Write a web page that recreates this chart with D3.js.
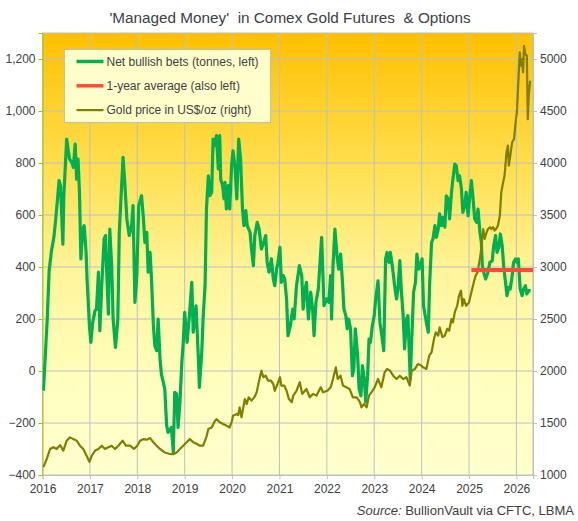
<!DOCTYPE html>
<html>
<head>
<meta charset="utf-8">
<script src="https://cdn.jsdelivr.net/npm/d3@7"></script>
<style>
  body { margin: 0; background: #fff; }
  text { font-family: "Liberation Sans", Arial, sans-serif; fill: #404040; }
</style>
</head>
<body>
<div id="chart"></div>
<script>
// net bullish bets of Managed Money, tonnes (date as decimal year)
const netDates = [2016.02,2016.10,2016.14,2016.19,2016.24,2016.28,2016.35,2016.38,2016.43,2016.45,2016.51,2016.57,2016.62,2016.65,2016.69,2016.72,2016.75,2016.78,2016.81,2016.85,2016.88,2016.92,2016.94,2016.99,
  2017.02,2017.06,2017.11,2017.14,2017.18,2017.21,2017.25,2017.30,2017.33,2017.35,2017.39,2017.42,2017.46,2017.49,2017.54,2017.59,2017.62,2017.67,2017.70,2017.74,2017.78,2017.83,2017.88,2017.91,2017.95,2017.99,
  2018.03,2018.09,2018.13,2018.16,2018.20,2018.23,2018.27,2018.30,2018.34,2018.37,2018.41,2018.44,2018.48,2018.51,2018.58,2018.62,2018.65,2018.72,2018.76,2018.79,2018.83,2018.86,2018.90,2018.94,2018.97,
  2019.00,2019.05,2019.10,2019.15,2019.18,2019.24,2019.29,2019.31,2019.36,2019.39,2019.43,2019.46,2019.50,2019.53,2019.57,2019.60,2019.64,2019.67,2019.71,2019.74,2019.76,2019.80,2019.83,2019.85,2019.88,2019.92,2019.95,2019.99,
  2020.02,2020.06,2020.10,2020.14,2020.18,2020.22,2020.25,2020.29,2020.32,2020.38,2020.41,2020.45,2020.48,2020.53,2020.57,2020.62,2020.67,2020.71,2020.74,2020.78,2020.83,2020.87,2020.90,2020.94,2020.97,
  2021.01,2021.04,2021.08,2021.11,2021.15,2021.18,2021.23,2021.28,2021.31,2021.36,2021.42,2021.47,2021.50,2021.54,2021.57,2021.61,2021.66,2021.70,2021.73,2021.77,2021.82,2021.89,2021.94,2021.99,
  2022.04,2022.08,2022.10,2022.13,2022.17,2022.22,2022.25,2022.29,2022.33,2022.36,2022.40,2022.43,2022.46,2022.50,2022.54,2022.57,2022.60,2022.65,2022.68,2022.72,2022.75,2022.79,2022.82,2022.86,2022.89,2022.92,2022.96,
  2023.00,2023.03,2023.08,2023.12,2023.16,2023.20,2023.24,2023.27,2023.31,2023.34,2023.39,2023.43,2023.47,2023.50,2023.54,2023.57,2023.61,2023.64,2023.68,2023.71,2023.76,2023.80,2023.83,2023.87,2023.90,2023.94,2023.97,
  2024.01,2024.04,2024.10,2024.14,2024.17,2024.21,2024.24,2024.28,2024.31,2024.35,2024.38,2024.42,2024.45,2024.49,2024.52,2024.56,2024.59,2024.63,2024.66,2024.70,2024.73,2024.77,2024.80,2024.84,2024.87,2024.91,2024.94,2024.98,
  2025.01,2025.05,2025.08,2025.12,2025.16,2025.19,2025.23,2025.26,2025.28,2025.31,2025.35,2025.40,2025.44,2025.49,2025.52,2025.56,2025.59,2025.63,2025.66,2025.70,2025.73,2025.77,2025.80,2025.84,2025.87,2025.91,2025.94,2025.98,
  2026.01,2026.04,2026.08,2026.12,2026.15,2026.19,2026.22,2026.26,2026.30];
const netTonnes = [-76,200,386,463,514,585,732,713,488,674,892,815,803,783,873,738,815,687,431,546,559,456,354,174,
  110,187,232,238,380,155,328,508,521,405,219,546,405,200,91,200,533,713,822,713,585,521,559,636,264,367,
  636,674,585,495,533,380,456,354,174,97,78,200,46,-13,-69,-210,-236,-217,-313,-82,-88,-217,-120,33,110,
  226,110,213,341,149,251,46,-63,72,207,328,623,751,674,687,892,867,905,777,905,738,713,662,726,623,713,623,790,
  847,790,662,892,815,623,559,617,559,533,469,405,521,572,546,469,495,521,418,380,431,354,328,392,418,
  476,341,367,354,277,136,174,238,200,328,405,367,238,315,341,200,303,238,136,264,315,514,251,277,
  264,367,200,405,546,431,392,450,341,238,213,162,200,162,-18,8,162,59,-69,-95,21,-31,-120,-18,123,110,174,
  213,277,347,187,136,78,431,456,418,456,392,328,277,315,425,315,213,85,200,213,-31,162,303,341,450,392,405,
  431,251,187,149,341,495,508,559,514,546,604,559,591,553,674,662,585,687,738,796,790,732,751,700,610,636,687,597,
  662,732,674,585,572,623,533,495,405,380,354,380,418,424,482,521,456,476,527,482,405,341,290,322,315,367,418,431,
  418,431,315,290,315,328,296,309,309];

// 1-year average of net bets (also left axis)
const avgDates = [2025.05, 2026.35];
const avgTonnes = [388, 388];

// gold price US$/oz
const goldDates = [2016.02,2016.09,2016.16,2016.23,2016.30,2016.37,2016.44,2016.51,2016.58,2016.65,2016.72,2016.79,2016.86,2016.93,2016.99,
  2017.04,2017.11,2017.18,2017.25,2017.32,2017.39,2017.46,2017.53,2017.60,2017.69,2017.76,2017.85,2017.93,
  2018.00,2018.06,2018.13,2018.20,2018.27,2018.34,2018.41,2018.48,2018.58,2018.69,2018.76,2018.83,2018.90,2018.97,
  2019.04,2019.11,2019.18,2019.25,2019.32,2019.39,2019.46,2019.50,2019.57,2019.64,2019.67,2019.74,2019.81,2019.88,2019.95,
  2020.00,2020.02,2020.10,2020.13,2020.16,2020.20,2020.23,2020.27,2020.31,2020.35,2020.41,2020.47,2020.52,2020.57,2020.62,2020.66,2020.71,2020.76,2020.82,2020.87,2020.90,2020.96,
  2021.01,2021.04,2021.10,2021.15,2021.20,2021.26,2021.29,2021.36,2021.43,2021.48,2021.52,2021.57,2021.64,2021.71,2021.78,2021.87,2021.92,
  2022.01,2022.08,2022.13,2022.19,2022.23,2022.29,2022.34,2022.41,2022.48,2022.55,2022.63,2022.70,2022.73,2022.78,2022.84,2022.89,2022.94,
  2023.01,2023.08,2023.15,2023.22,2023.27,2023.33,2023.40,2023.47,2023.54,2023.61,2023.68,2023.75,2023.79,2023.86,2023.92,2023.99,
  2024.03,2024.10,2024.16,2024.21,2024.26,2024.30,2024.35,2024.38,2024.44,2024.49,2024.54,2024.58,2024.63,2024.66,2024.70,2024.75,2024.79,2024.83,2024.86,2024.89,2024.94,
  2025.00,2025.05,2025.10,2025.14,2025.18,2025.21,2025.24,2025.27,2025.30,2025.33,2025.37,2025.40,2025.44,2025.47,2025.51,2025.54,2025.57,2025.61,2025.65,2025.68,2025.72,2025.75,2025.79,2025.82,2025.84,2025.87,2025.91,2025.95,2025.99,
  2026.01,2026.04,2026.07,2026.09,2026.12,2026.14,2026.16,2026.19,2026.22,2026.24,2026.26,2026.29];
const goldPrice = [1075,1155,1250,1267,1250,1287,1235,1330,1362,1345,1330,1282,1250,1185,1127,
  1185,1235,1250,1282,1250,1267,1282,1250,1282,1330,1282,1282,1250,
  1282,1330,1345,1340,1355,1315,1282,1250,1217,1202,1200,1217,1250,1282,
  1315,1345,1315,1300,1282,1282,1370,1442,1457,1522,1537,1507,1490,1475,1457,
  1522,1570,1587,1575,1650,1555,1635,1730,1682,1747,1715,1747,1795,1907,2003,1940,1955,1907,1907,1875,1810,1875,
  1940,1860,1860,1810,1730,1700,1763,1810,1892,1780,1800,1827,1747,1780,1763,1843,1795,
  1810,1843,1923,2035,1923,1955,1860,1843,1827,1747,1747,1700,1650,1682,1650,1763,1795,
  1843,1923,1843,1987,2020,2003,1955,1923,1955,1923,1940,1860,2003,2020,2067,2053,
  2035,2020,2147,2180,2307,2372,2340,2420,2325,2340,2405,2387,2500,2467,2565,2627,2725,2772,2627,2692,2627,
  2660,2757,2852,2917,2950,3030,3110,3237,3365,3270,3332,3365,3382,3365,3382,3350,3365,3397,3492,3717,3815,3877,4102,4167,3975,4070,4200,4230,4422,
  4487,4775,5065,4935,5000,4872,5127,5047,5032,4422,4647,4792];

const years = d3.range(2016, 2027);
const leftTicks = d3.range(-400, 1201, 200);
const rightTicks = d3.range(1000, 5001, 500);

const svgWidth = 578, svgHeight = 521;
const margin = { top: 33, right: 45, bottom: 46, left: 42.5 };
const width = svgWidth - margin.left - margin.right;
const height = svgHeight - margin.top - margin.bottom;

const svg = d3.select('#chart').append('svg')
    .attr('width', svgWidth)
    .attr('height', svgHeight);

const defs = svg.append('defs');
const grad = defs.append('linearGradient')
    .attr('id', 'bg').attr('x1', 0).attr('y1', 0).attr('x2', 0).attr('y2', 1);
[[0, '#ffc000'], [0.3, '#ffdf4f'], [0.55, '#fff59c'], [0.8, '#ffffc0'], [1, '#ffffcf']].forEach(s => {
    grad.append('stop').attr('offset', s[0]).attr('stop-color', s[1]);
});
defs.append('clipPath').attr('id', 'clip')
    .append('rect').attr('width', width).attr('height', height);

const g = svg.append('g')
    .attr('transform', 'translate(' + margin.left + ',' + margin.top + ')');

const x = d3.scaleLinear().domain([2016, 2026.35]).range([0, width]);
const yL = d3.scaleLinear().domain([-400, 1300]).range([height, 0]);
const yR = d3.scaleLinear().domain([1000, 5250]).range([height, 0]);

g.append('rect')
    .attr('width', width).attr('height', height)
    .attr('fill', 'url(#bg)');

// grid
g.selectAll('.vgrid').data(years.slice(1)).enter().append('line')
    .attr('x1', d => x(d)).attr('x2', d => x(d))
    .attr('y1', 0).attr('y2', height)
    .attr('stroke', '#bfbfbf').attr('stroke-width', 1);
g.selectAll('.hgrid').data(leftTicks.slice(1)).enter().append('line')
    .attr('x1', 0).attr('x2', width)
    .attr('y1', d => yL(d)).attr('y2', d => yL(d))
    .attr('stroke', '#bfbfbf').attr('stroke-width', 1);
g.append('rect')
    .attr('width', width).attr('height', height)
    .attr('fill', 'none').attr('stroke', '#bfbfbf');

// axes
const axL = g.append('g')
    .call(d3.axisLeft(yL).tickValues(leftTicks).tickSize(4).tickFormat(d3.format(',')));
axL.select('.domain').attr('stroke', '#9acd00');
axL.selectAll('line').attr('stroke', '#9acd00');

const axR = g.append('g')
    .attr('transform', 'translate(' + width + ',0)')
    .call(d3.axisRight(yR).tickValues(rightTicks).tickSize(4).tickFormat(d3.format('d')));
axR.select('.domain').attr('stroke', '#bfbfbf');
axR.selectAll('line').attr('stroke', '#bfbfbf');

const axB = g.append('g')
    .attr('transform', 'translate(0,' + height + ')')
    .call(d3.axisBottom(x).tickValues(years).tickSize(4).tickFormat(d3.format('d')));
axB.select('.domain').attr('stroke', '#bfbfbf');
axB.selectAll('line').attr('stroke', '#bfbfbf');

[axL, axR, axB].forEach(a => a.selectAll('text')
    .style('font-size', '12px')
    .style('font-family', '"Liberation Sans", Arial, sans-serif')
    .attr('fill', '#404040'));
axB.selectAll('text').attr('dy', '0.9em');

// series
const plot = g.append('g').attr('clip-path', 'url(#clip)');

const netLine = d3.line()
    .x((d, i) => x(netDates[i]))
    .y(d => yL(d));
plot.append('path')
    .datum(netTonnes)
    .attr('fill', 'none')
    .attr('stroke', '#00b050')
    .attr('stroke-width', 3.2)
    .attr('stroke-linejoin', 'round')
    .attr('d', netLine);

const goldLine = d3.line()
    .x((d, i) => x(goldDates[i]))
    .y(d => yR(d));
plot.append('path')
    .datum(goldPrice)
    .attr('fill', 'none')
    .attr('stroke', '#7f7f00')
    .attr('stroke-width', 2.2)
    .attr('stroke-linejoin', 'round')
    .attr('d', goldLine);

const avgLine = d3.line()
    .x((d, i) => x(avgDates[i]))
    .y(d => yL(d));
plot.append('path')
    .datum(avgTonnes)
    .attr('fill', 'none')
    .attr('stroke', '#ff4b3a')
    .attr('stroke-width', 4)
    .attr('d', avgLine);

// legend
const legend = svg.append('g').attr('transform', 'translate(64.5,49.5)');
legend.append('rect')
    .attr('width', 206).attr('height', 73)
    .attr('fill', '#ffffcc').attr('stroke', '#bfbfbf');
const legItems = [
    { label: 'Net bullish bets (tonnes, left)', color: '#00b050', w: 3.5 },
    { label: '1-year average (also left)', color: '#ff4b3a', w: 3.5 },
    { label: 'Gold price in US$/oz (right)', color: '#7f7f00', w: 2.2 }
];
legItems.forEach((d, i) => {
    const row = legend.append('g').attr('transform', 'translate(0,' + (12 + i * 24.3) + ')');
    row.append('line')
        .attr('x1', 12).attr('x2', 39)
        .attr('stroke', d.color).attr('stroke-width', d.w);
    row.append('text')
        .attr('x', 42).attr('dy', '0.35em')
        .style('font-size', '12px')
        .text(d.label);
});

// title and source
svg.append('text')
    .attr('x', 290).attr('y', 23)
    .attr('text-anchor', 'middle')
    .style('font-size', '15.3px')
    .style('white-space', 'pre')
    .text("'Managed Money'  in Comex Gold Futures  & Options");

const src = svg.append('text')
    .attr('x', 574).attr('y', 515)
    .attr('text-anchor', 'end')
    .style('font-size', '13px');
src.append('tspan').style('font-style', 'italic').text('Source:');
src.append('tspan').text(' BullionVault via CFTC, LBMA');
</script>
</body>
</html>
